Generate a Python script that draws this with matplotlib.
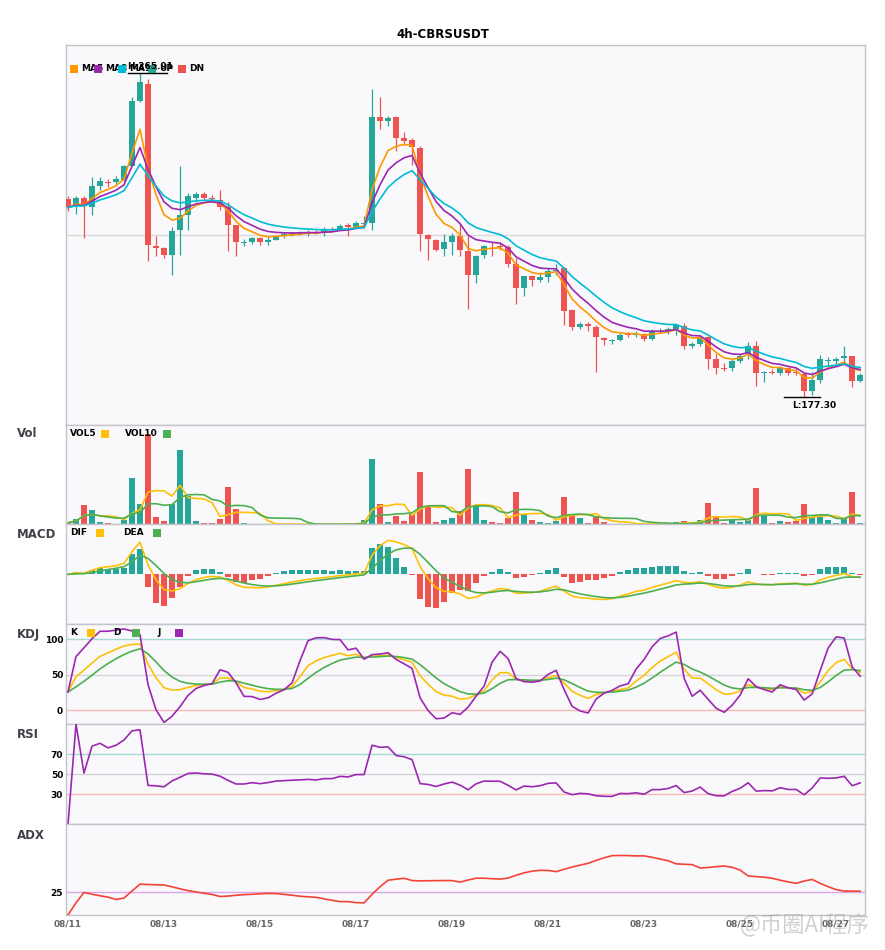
import numpy as np
import pandas as pd
import matplotlib
matplotlib.use('Agg')
import matplotlib.pyplot as plt

# 4h candles, 08/11 00:00 onwards
opens = [231.5, 229.4, 231.8, 229.1, 235.0, 235.9, 236.1, 236.5, 240.5, 258.3,
         262.9, 218.6, 217.9, 216.2, 223.0, 227.1, 231.8, 232.7, 231.8, 231.2,
         229.1, 224.2, 219.4, 219.5, 220.6, 219.5, 220.3, 221.2, 221.6, 221.9,
         221.7, 222.5, 222.5, 223.2, 223.2, 224.2, 223.7, 224.5, 224.7, 253.9,
         252.6, 253.7, 248.2, 247.5, 245.4, 221.6, 220.3, 217.6, 219.7, 221.4,
         217.3, 210.5, 216.0, 218.6, 218.6, 218.2, 213.5, 207.0, 210.2, 209.2,
         210.0, 211.6, 212.4, 200.9, 196.4, 197.3, 196.5, 193.5, 192.5, 192.7,
         194.6, 194.2, 194.5, 193.2, 195.1, 195.2, 195.7, 196.6, 191.1, 191.8,
         193.6, 187.5, 185.2, 185.2, 187.0, 188.9, 191.1, 183.9, 184.0, 183.9,
         185.2, 183.9, 183.4, 178.9, 182.0, 187.1, 187.2, 187.9, 188.4, 181.7]
highs = [232.3, 232.1, 232.1, 237.3, 237.3, 237.0, 237.7, 240.6, 259.4, 265.91,
         264.2, 221.2, 218.3, 223.6, 240.3, 233.0, 233.4, 233.4, 232.6, 233.9,
         230.7, 224.2, 220.5, 220.9, 220.9, 220.9, 221.6, 222.3, 222.5, 222.7,
         222.8, 222.8, 223.6, 223.6, 224.5, 224.9, 225.4, 226.8, 261.5, 259.4,
         254.2, 254.2, 249.8, 248.1, 246.0, 221.9, 220.5, 221.9, 222.1, 224.6,
         221.2, 216.2, 218.9, 219.7, 219.7, 218.7, 215.3, 210.2, 210.7, 211.5,
         212.4, 213.5, 212.8, 201.4, 197.7, 197.7, 196.8, 193.6, 193.1, 194.8,
         195.0, 195.2, 194.8, 195.9, 196.2, 196.3, 197.3, 197.5, 192.2, 194.1,
         193.9, 189.1, 186.4, 187.7, 188.9, 192.2, 192.5, 184.3, 184.8, 185.7,
         185.5, 185.2, 183.7, 184.0, 188.7, 188.2, 188.2, 191.1, 188.4, 183.7]
lows = [228.0, 227.4, 220.6, 226.9, 233.9, 234.7, 235.6, 236.4, 240.4, 257.8,
        214.5, 215.7, 215.3, 210.7, 216.2, 222.8, 230.5, 231.2, 230.7, 228.5,
        217.3, 215.9, 218.5, 219.2, 218.7, 218.9, 220.1, 220.6, 221.2, 221.5,
        221.2, 221.7, 221.2, 222.3, 222.8, 221.2, 223.4, 223.4, 223.0, 250.6,
        251.4, 244.4, 246.2, 240.8, 217.1, 214.8, 217.1, 215.7, 216.2, 215.9,
        201.2, 208.3, 215.3, 215.9, 217.5, 212.7, 202.8, 204.8, 207.7, 208.8,
        208.8, 210.7, 196.9, 195.5, 195.8, 195.2, 184.0, 191.4, 191.7, 192.5,
        193.7, 193.7, 192.5, 192.8, 194.6, 194.5, 194.1, 190.4, 190.7, 191.1,
        184.8, 183.6, 184.3, 184.3, 186.6, 187.7, 180.2, 181.3, 183.4, 183.2,
        183.2, 183.2, 177.3, 177.9, 181.1, 185.7, 185.9, 186.6, 180.0, 181.3]
closes = [229.1, 231.8, 229.4, 235.0, 236.4, 235.8, 237.0, 240.5, 258.3, 263.3,
          218.7, 217.9, 216.2, 222.7, 227.1, 232.1, 232.7, 231.8, 231.4, 229.1,
          224.2, 219.5, 219.5, 220.6, 219.5, 220.3, 221.4, 221.7, 222.0, 222.2,
          222.5, 222.1, 222.8, 222.8, 223.9, 223.6, 224.7, 224.7, 253.9, 252.6,
          253.5, 248.2, 247.4, 245.5, 221.7, 220.4, 217.4, 219.7, 221.4, 217.4,
          210.5, 215.9, 218.6, 218.4, 218.3, 213.5, 207.0, 210.2, 209.2, 210.0,
          211.8, 212.1, 200.7, 196.4, 197.3, 196.6, 193.7, 192.8, 192.7, 194.3,
          194.1, 194.5, 193.0, 195.2, 195.2, 195.7, 197.0, 191.1, 191.8, 193.6,
          187.5, 185.2, 185.0, 187.0, 188.4, 191.1, 183.7, 184.0, 183.7, 185.2,
          183.7, 183.7, 178.9, 182.0, 187.5, 187.3, 187.5, 188.4, 181.7, 183.2]
volumes = [1.7, 5.3, 19.3, 14.3, 2.7, 1.3, 0.7, 4.7, 46.7, 20.3,
           90.0, 7.7, 3.3, 20.3, 74.3, 28.7, 3.3, 1.3, 1.3, 5.3,
           37.3, 15.3, 1.3, 0.4, 0.7, 0.4, 0.2, 0.2, 0.2, 0.2,
           0.2, 0.2, 0.2, 0.2, 0.3, 1.3, 1.3, 4.3, 65.7, 20.3,
           2.3, 8.7, 3.3, 10.0, 52.3, 18.3, 2.3, 4.3, 6.3, 13.3,
           55.7, 19.3, 4.3, 2.3, 1.3, 6.3, 32.3, 10.0, 4.3, 2.3,
           1.3, 3.3, 27.7, 10.3, 6.3, 1.3, 8.3, 2.3, 0.4, 0.4,
           0.7, 0.4, 0.4, 0.4, 0.4, 0.4, 2.3, 3.3, 1.3, 4.3,
           21.3, 8.3, 1.3, 4.3, 2.3, 4.3, 36.3, 9.3, 1.3, 3.3,
           2.3, 3.3, 20.3, 7.3, 8.3, 4.3, 1.3, 6.3, 32.3, 1.3]

times = pd.date_range('2025-08-11', periods=len(closes), freq='4h')
df = pd.DataFrame({'open': opens, 'high': highs, 'low': lows,
                   'close': closes, 'vol': volumes}, index=times)
n = len(df)
x = np.arange(n)
c = df['close']
h = df['high']
l = df['low']

UP = '#26a69a'
DN = '#ef5350'

# moving averages
ma_fast = c.ewm(span=5, adjust=False).mean()
ma_mid = c.ewm(span=8, adjust=False).mean()
ma_slow = c.ewm(span=13, adjust=False).mean()
vol5 = df['vol'].rolling(5, min_periods=1).mean()
vol10 = df['vol'].rolling(10, min_periods=1).mean()

# MACD
dif = c.ewm(span=6, adjust=False).mean() - c.ewm(span=13, adjust=False).mean()
dea = dif.ewm(span=5, adjust=False).mean()
macd = 2 * (dif - dea)

# KDJ
low9 = l.rolling(9, min_periods=1).min()
high9 = h.rolling(9, min_periods=1).max()
rsv = (c - low9) / (high9 - low9) * 100
k = rsv.ewm(com=2, adjust=False).mean()
d = k.ewm(com=2, adjust=False).mean()
j = 3 * k - 2 * d

# RSI
delta = c.diff()
gain = delta.clip(lower=0).ewm(alpha=1/14).mean()
loss = (-delta.clip(upper=0)).ewm(alpha=1/14).mean()
rsi = (100 - 100 / (1 + gain / loss)).fillna(0)

# ADX
prev_c = c.shift()
tr = pd.concat([h - l, (h - prev_c).abs(), (l - prev_c).abs()], axis=1).max(axis=1)
up_move = h.diff()
dn_move = -l.diff()
pdm = pd.Series(np.where((up_move > dn_move) & (up_move > 0), up_move, 0.0), index=df.index)
mdm = pd.Series(np.where((dn_move > up_move) & (dn_move > 0), dn_move, 0.0), index=df.index)
atr = tr.ewm(span=14, adjust=False).mean()
pdi = 100 * pdm.ewm(span=14, adjust=False).mean() / atr
mdi = 100 * mdm.ewm(span=14, adjust=False).mean() / atr
dx = (100 * (pdi - mdi).abs() / (pdi + mdi)).fillna(0)
adx = dx.ewm(span=14, adjust=False).mean()

colors = np.where(c >= df['open'], UP, DN)

fig = plt.figure(figsize=(8.85, 9.5), dpi=100)
gs = fig.add_gridspec(6, 1, height_ratios=[380, 100, 100, 100, 100, 91], hspace=0,
                      left=66/885, right=865/885, top=1-45/950, bottom=1-915/950)
axes = [fig.add_subplot(gs[0])]
for i in range(1, 6):
    axes.append(fig.add_subplot(gs[i], sharex=axes[0]))
ax_p, ax_v, ax_m, ax_k, ax_r, ax_a = axes

for ax in axes:
    ax.set_facecolor('#f9f9fb')
    for s in ax.spines.values():
        s.set_color('#c3c3cc')
        s.set_linewidth(1)
    ax.tick_params(axis='both', length=0, labelsize=6.5, pad=2)
    ax.tick_params(axis='x', labelbottom=False)
    ax.set_yticks([])
    for t in ax.get_yticklabels():
        t.set_fontweight('bold')
ax_p.set_xlim(-0.25, n - 0.4)


def px(xp):
    return (xp - 66) / 799


def legend_row(ax, y, items, z0=10):
    # items: ('sq', x_px, color) or ('txt', x_px, label)
    for zi, (kind, xp, val) in enumerate(items):
        if kind == 'sq':
            ax.plot([px(xp)], [y], marker='s', ms=5.4, mew=0, color=val,
                    transform=ax.transAxes, clip_on=False, zorder=z0 + zi)
        else:
            ax.text(px(xp), y, val, transform=ax.transAxes, fontsize=6.5,
                    fontweight='bold', va='center', ha='left', zorder=z0 + zi)


def panel_name(ax, y, name):
    ax.text(px(17), y, name, transform=ax.transAxes, fontsize=8.5,
            fontweight='bold', color='#404048', va='center', ha='left')


# price panel
o_arr = df['open'].values
c_arr = c.values
ax_p.vlines(x, l, h, colors=colors, lw=0.9, zorder=2)
ax_p.bar(x, np.maximum(np.abs(c_arr - o_arr), 0.25), bottom=np.minimum(o_arr, c_arr),
         width=0.72, color=colors, zorder=3)
ax_p.plot(x, ma_fast, color='#ff9800', lw=1.2, zorder=4)
ax_p.plot(x, ma_mid, color='#9c27b0', lw=1.2, zorder=4)
ax_p.plot(x, ma_slow, color='#00bcd4', lw=1.2, zorder=4)
hi, lo = h.max(), l.min()
rng = hi - lo
ax_p.set_ylim(lo - 0.086 * rng, hi + 0.086 * rng)
ax_p.axhline((hi + lo) / 2, color='#dadada', lw=1, zorder=1)
ih, il = int(np.argmax(h.values)), int(np.argmin(l.values))
ax_p.plot([ih - 1.5, ih + 3.4], [hi, hi], color='black', lw=1, zorder=6)
ax_p.annotate(f'H:{hi:.2f}', (ih + 1.25, hi), xytext=(0, 1.5), textcoords='offset points',
              ha='center', va='bottom', fontsize=6.5, fontweight='bold', zorder=20)
ax_p.plot([il - 2.5, il + 2], [lo, lo], color='black', lw=1, zorder=6)
ax_p.annotate(f'L:{lo:.2f}', (il + 1.2, lo), xytext=(0, -3), textcoords='offset points',
              ha='center', va='top', fontsize=6.5, fontweight='bold', zorder=20)
legend_row(ax_p, 0.938, [('sq', 73.5, '#ff9800'), ('txt', 81, 'MA5'),
                         ('sq', 98, '#9c27b0'), ('txt', 105, 'MA8'),
                         ('sq', 122, '#00bcd4'), ('txt', 129, 'MA13'),
                         ('sq', 152, UP), ('txt', 159, 'UP'),
                         ('sq', 182, DN), ('txt', 189, 'DN')])

# volume panel
ax_v.bar(x, df['vol'], width=0.72, color=colors, zorder=2)
ax_v.plot(x, vol5, color='#ffc107', lw=1.2, zorder=3)
ax_v.plot(x, vol10, color='#4caf50', lw=1.2, zorder=3)
ax_v.set_ylim(0, df['vol'].max() * 1.11)
legend_row(ax_v, 0.91, [('txt', 70, 'VOL5'), ('sq', 105, '#ffc107'),
                        ('txt', 125, 'VOL10'), ('sq', 166.5, '#4caf50')])
panel_name(ax_v, 0.91, 'Vol')

# MACD panel
ax_m.bar(x, macd, width=0.72, color=np.where(macd >= 0, UP, DN), zorder=2)
ax_m.plot(x, dif, color='#ffc107', lw=1.2, zorder=3)
ax_m.plot(x, dea, color='#4caf50', lw=1.2, zorder=3)
m = max(macd.abs().max(), dif.abs().max(), dea.abs().max()) * 1.47
ax_m.set_ylim(-m, m)
legend_row(ax_m, 0.915, [('txt', 70, 'DIF'), ('sq', 100, '#ffc107'),
                         ('txt', 123, 'DEA'), ('sq', 156.5, '#4caf50')])
panel_name(ax_m, 0.9, 'MACD')

# KDJ panel
ax_k.axhline(100, color='#a3dad2', lw=1, zorder=1)
ax_k.axhline(50, color='#d4d4d8', lw=1, zorder=1)
ax_k.axhline(0, color='#f7b8b8', lw=1, zorder=1)
ax_k.plot(x, k, color='#ffc107', lw=1.2, zorder=3)
ax_k.plot(x, d, color='#4caf50', lw=1.2, zorder=3)
ax_k.plot(x, j, color='#9c27b0', lw=1.2, zorder=3)
ax_k.set_ylim(-20, 121)
ax_k.set_yticks([0, 50, 100])
legend_row(ax_k, 0.917, [('txt', 70, 'K'), ('sq', 91, '#ffc107'),
                         ('txt', 113, 'D'), ('sq', 135.5, '#4caf50'),
                         ('txt', 157, 'J'), ('sq', 179, '#9c27b0')])
panel_name(ax_k, 0.9, 'KDJ')

# RSI panel
ax_r.axhline(70, color='#a3dad2', lw=1, zorder=1)
ax_r.axhline(50, color='#d4d4d8', lw=1, zorder=1)
ax_r.axhline(30, color='#f7b8b8', lw=1, zorder=1)
ax_r.plot(x, rsi, color='#9c27b0', lw=1.2, zorder=3)
ax_r.set_ylim(0, 100)
ax_r.set_yticks([30, 50, 70])
panel_name(ax_r, 0.9, 'RSI')

# ADX panel
ax_a.axhline(25, color='#dca6e6', lw=1, zorder=1)
ax_a.plot(x, adx, color='#f44336', lw=1.2, zorder=3)
ax_a.set_ylim(0, 100)
ax_a.set_yticks([25])
panel_name(ax_a, 0.88, 'ADX')

for ax in (ax_k, ax_r, ax_a):
    for t in ax.get_yticklabels():
        t.set_fontweight('bold')

tick_idx = [i for i, t in enumerate(times) if t.hour == 0 and t.day % 2 == 1]
ax_a.set_xticks(tick_idx)
ax_a.set_xticklabels([times[i].strftime('%m/%d') for i in tick_idx],
                     fontsize=6.5, fontweight='bold', color='#666666')
ax_a.tick_params(axis='x', labelbottom=True, pad=3)

fig.text(0.5, 1 - 34/950, '4h-CBRSUSDT', ha='center', va='center',
         fontsize=8.5, fontweight='bold')
fig.text(740/885, 1 - 926/950, '@币圈AI程序', ha='left', va='center', fontsize=16,
         color='#9a9a9a', alpha=0.45, family=['Noto Sans CJK SC', 'DejaVu Sans'])

fig.savefig('out.png', dpi=100)
